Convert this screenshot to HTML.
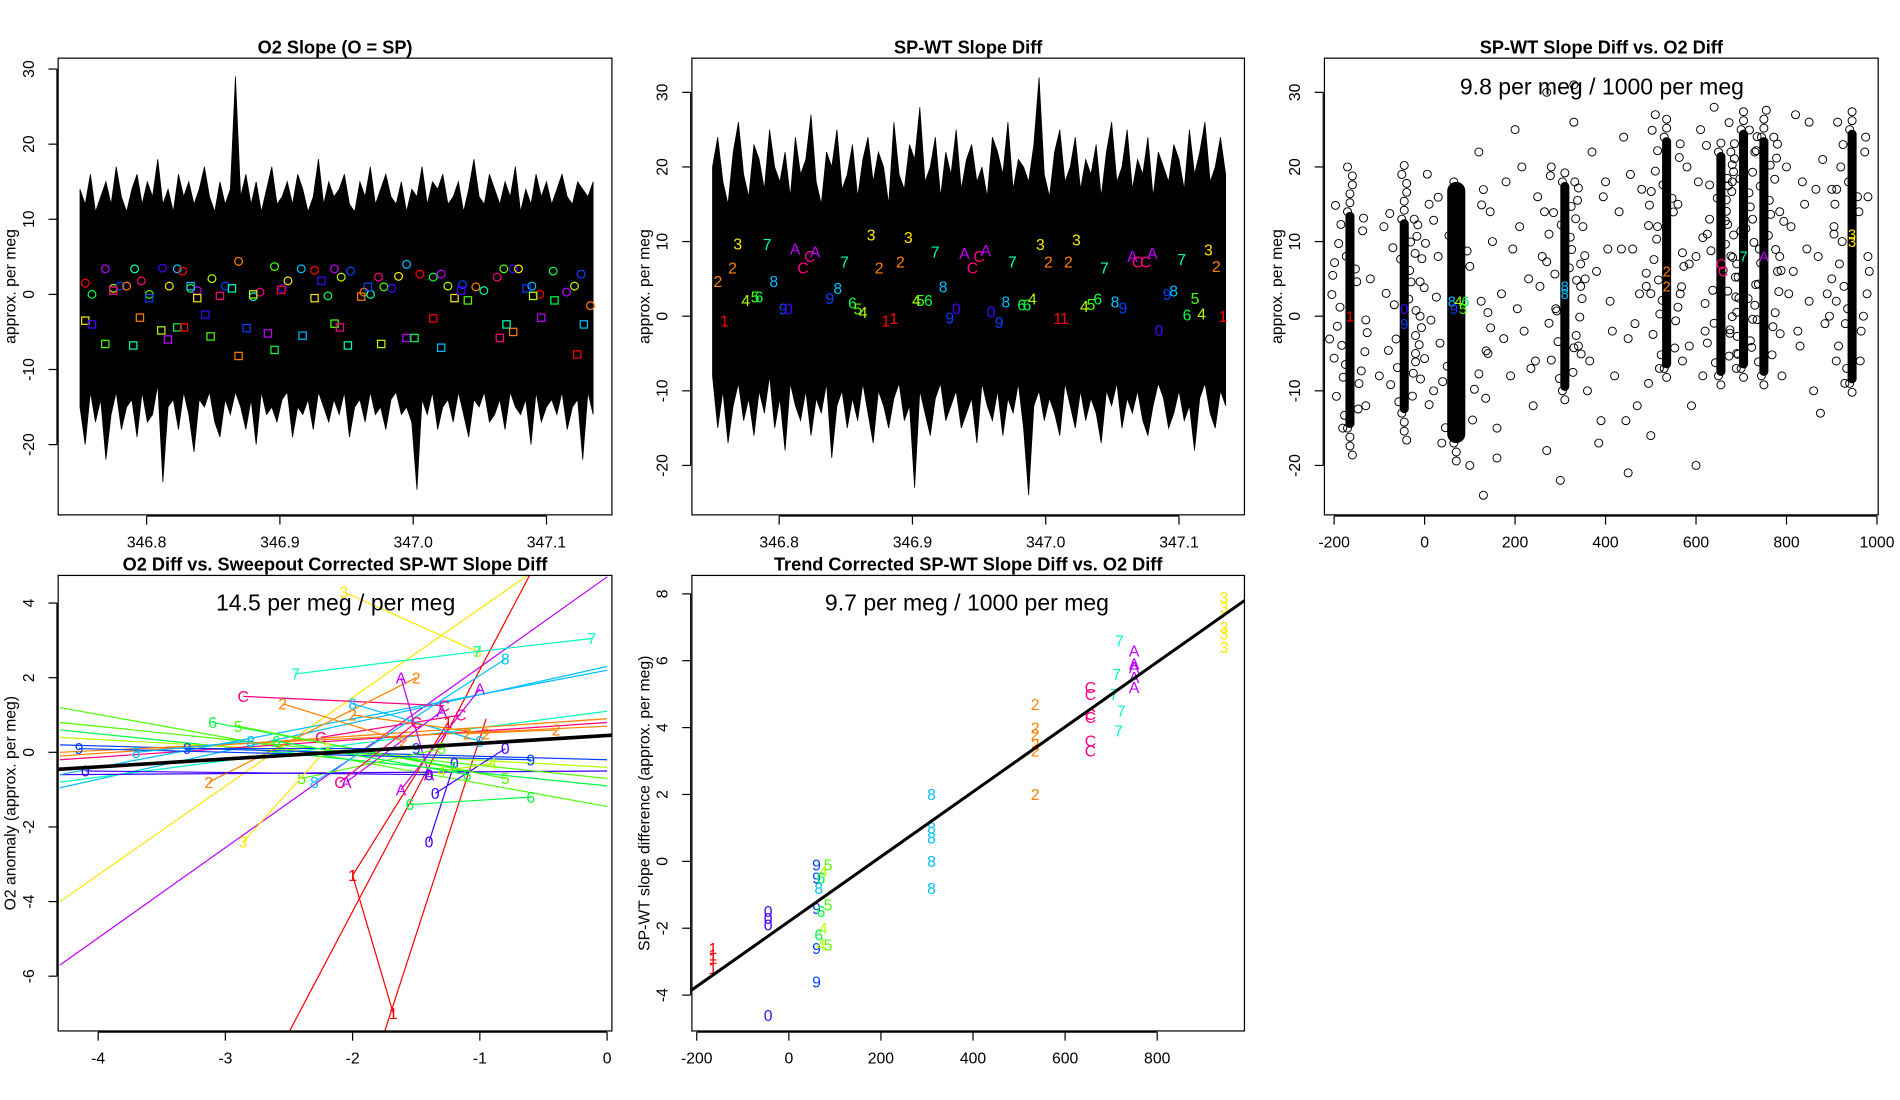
<!DOCTYPE html>
<html><head><meta charset="utf-8">
<style>
html,body{margin:0;padding:0;background:#fff;}
svg{display:block;font-family:"Liberation Sans",Arial,sans-serif;}
</style></head>
<body>
<svg id="chart" width="1900" height="1100" viewBox="0 0 1568 908" preserveAspectRatio="none" xmlns="http://www.w3.org/2000/svg"></svg>
<script>
// ---------- data ----------
const palette = {'1':'#FF0000','2':'#FF8000','3':'#FFE600','4':'#B3FF00','5':'#4DFF00','6':'#00FF40','7':'#00FFBF','8':'#00BFFF','9':'#0040FF','0':'#4000FF','A':'#BF00FF','C':'#FF0080'};
const labelCycle = ['1','2','3','4','5','6','7','8','9','0','A','C'];

const p1Hi = [14,12,16,11,13,15,12,17,13,11,14,16,12,15,13,18,12,14,11,16,13,15,12,14,17,13,11,15,12,14,29,13,16,12,15,11,14,17,12,13,15,12,16,14,11,13,18,12,15,13,14,16,12,11,15,13,17,12,14,16,13,12,15,11,14,13,17,12,15,14,16,12,13,15,11,14,18,13,12,16,14,12,15,13,17,11,14,12,16,13,15,12,14,16,13,12,15,14,13,15];
const p1Lo = [-15,-20,-13,-17,-14,-22,-16,-13,-18,-15,-14,-19,-13,-17,-16,-12,-25,-15,-14,-18,-13,-16,-21,-14,-15,-13,-17,-19,-14,-16,-13,-15,-18,-14,-20,-13,-16,-15,-17,-14,-13,-19,-15,-16,-14,-18,-13,-15,-17,-14,-16,-13,-19,-15,-14,-17,-13,-16,-15,-18,-14,-13,-16,-15,-17,-26,-14,-16,-13,-18,-15,-14,-17,-13,-16,-19,-14,-15,-13,-17,-16,-14,-18,-13,-15,-16,-14,-20,-13,-17,-15,-14,-16,-13,-18,-15,-14,-22,-13,-16];
const p2Hi = [20,24,18,15,22,26,19,16,23,21,17,25,20,18,22,16,24,19,21,27,18,15,22,20,25,17,19,23,16,21,24,18,22,20,15,26,19,17,23,21,28,18,20,24,16,22,19,25,17,21,23,18,20,16,24,22,19,26,17,21,20,18,23,32,19,16,22,25,18,20,24,17,21,19,23,16,22,26,18,20,25,17,21,19,24,16,22,20,18,23,21,17,25,19,22,26,18,20,24,19];
const p2Lo = [-8,-15,-10,-17,-12,-9,-14,-11,-16,-10,-13,-8,-15,-11,-18,-9,-12,-14,-10,-16,-11,-13,-9,-19,-12,-10,-15,-11,-14,-9,-13,-17,-10,-12,-15,-11,-9,-14,-12,-23,-10,-13,-16,-11,-9,-14,-12,-10,-15,-13,-11,-17,-9,-12,-14,-10,-16,-11,-13,-9,-15,-24,-12,-10,-14,-11,-13,-16,-9,-12,-15,-10,-14,-11,-13,-17,-10,-12,-9,-15,-11,-13,-10,-14,-16,-12,-9,-11,-15,-13,-10,-14,-12,-18,-11,-9,-13,-15,-10,-12];
const tStart = 346.750, tEnd = 347.135;

const circT = [346.754,346.759,346.769,346.775,346.780,346.785,346.791,346.796,346.802,346.812,346.817,346.823,346.827,346.833,346.838,346.849,346.859,346.869,346.880,346.885,346.896,346.902,346.906,346.916,346.926,346.936,346.941,346.946,346.953,346.963,346.968,346.974,346.978,346.984,346.989,346.995,347.005,347.015,347.021,347.026,347.037,347.047,347.053,347.063,347.068,347.075,347.079,347.089,347.095,347.105,347.115,347.121,347.126,347.133];
const circY = [1.5,0,3.4,0.8,1.1,1.1,3.4,1.8,0,3.5,1.1,3.4,3.1,0.8,0.5,2.1,1.1,4.4,-0.3,0.3,3.7,0.8,1.8,3.4,3.2,-0.2,3.4,2.3,3.1,0.3,0,2.3,1.0,0.8,2.4,4.0,2.7,2.3,2.7,1.1,1.3,1.0,0.5,2.3,3.4,3.4,3.4,1.1,0,3.1,0.3,1.1,2.7,-1.5];
const sqT = [346.754,346.759,346.769,346.775,346.790,346.795,346.802,346.811,346.816,346.823,346.828,346.833,346.838,346.844,346.848,346.855,346.864,346.869,346.875,346.880,346.891,346.896,346.901,346.917,346.926,346.931,346.941,346.945,346.951,346.961,346.966,346.976,346.995,347.001,347.015,347.021,347.031,347.036,347.041,347.065,347.070,347.075,347.085,347.090,347.096,347.106,347.123,347.128];
const sqY = [-3.5,-4.0,-6.6,0.5,-6.8,-3.1,-0.5,-4.8,-6.0,-4.4,-4.4,1.1,-0.5,-2.7,-5.6,-0.2,0.8,-8.2,-4.5,0,-5.2,-7.4,0.6,-5.5,-0.5,1.8,-3.9,-4.4,-6.8,-0.3,1.0,-6.6,-5.8,-5.8,-3.2,-7.1,-0.5,0.5,-0.8,-5.8,-4.0,-5.0,0.8,-0.2,-3.1,-0.8,-8.0,-4.0];

const p2LabT = [346.759,346.754,346.765,346.769,346.791,346.775,346.782,346.785,346.796,346.803,346.807,346.812,346.818,346.823,346.827,346.849,346.838,346.844,346.855,346.859,346.863,346.875,346.891,346.869,346.897,346.917,346.880,346.886,346.903,346.906,346.912,346.923,346.928,346.933,346.939,346.945,346.950,346.955,346.975,346.959,346.965,346.970,346.982,346.986,346.990,346.996,347.002,347.009,347.014,347.017,347.023,347.044,347.029,347.034,347.039,347.052,347.058,347.065,347.069,347.075,347.080,347.102,347.085,347.091,347.096,347.112,347.106,347.117,347.122,347.128,347.133];
const p2LabY = [-0.6,4.7,6.5,9.7,9.6,2.1,2.6,2.6,4.7,1.0,1.0,9.0,6.5,8.0,8.6,7.3,2.4,3.7,1.8,1.0,0.5,6.5,7.3,10.9,10.6,8.6,-0.6,-0.3,2.1,2.1,2.1,3.9,-0.2,1.0,8.4,6.5,8.0,8.8,7.3,0.6,-0.8,1.9,1.5,1.5,2.3,9.6,7.3,-0.3,-0.3,7.3,10.2,6.5,1.3,1.6,2.3,1.9,1.1,8.0,7.3,7.3,8.4,7.6,-1.9,2.9,3.4,2.4,0.2,0.3,8.9,6.7,0.0];
const p2LabC = ['1','2','2','3','7','4','5','6','8','9','0','A','C','C','A','7','9','8','6','5','4','2','2','3','3','7','1','1','4','5','6','8','9','0','A','C','C','A','7','0','9','8','6','6','4','3','2','1','1','2','3','7','4','5','6','8','9','A','C','C','A','7','0','9','8','5','6','4','3','2','1'];

const clusterX = [-165,-45,70,310,535,655,705,750,945];
const clusterLo = [-15,-13,-17,-10,-7,-8,-7,-8,-9];
const clusterHi = [14,13,18,18,24,22,25,24,25];
const clusterHalfW = [10,10,20,10,10,10,10,10,10];
const clusterTipLo = [-19,-17,-20,-12,-9,-10,-9,-10,-11];
const clusterTipHi = [20,21,19,20,27,24,28,28,28];
const haloDX = [-30,25,-18,35,-40,12,-25,30,-12,20,-35,38,-22,15,-8,28,-32,18,-15,33,-28,10,-38,24,-20,36,-10,26,-34,14,-45,44,-16,22];
const haloDY = [-12,-8,-4,0,4,8,12,16,-15,-10,-6,-2,2,6,10,14,18,-14,-9,-5,-1,3,7,11,15,-11,-7,1,9,13,-3,5,-17,17];
const bgX = [-120,-100,-90,-130,-20,10,20,30,120,140,150,160,170,180,190,200,210,220,230,240,250,260,270,280,290,330,340,350,360,370,380,390,400,410,420,430,440,450,460,470,480,490,500,510,560,570,580,590,600,610,620,630,680,690,730,780,790,800,810,820,830,840,850,860,870,880,890,900,910,980,850,100,300,450,600,270,330,640,130,385,445,160,725,875,
  125,145,175,195,215,235,255,275,345,365,395,415,435,455,475,495,515,565,585,605,625,785,805,825,845,865,885,905,135,205,245,265,355,405,465,585,615,815,835,895];
const bgY = [5,-8,12,-12,-5,15,-10,8,22,-5,10,-15,3,18,-8,25,12,-2,5,-12,16,8,-18,20,1,26,-4,12,-10,22,6,-14,18,2,-8,14,24,-3,9,-12,17,4,-16,27,15,-6,20,-12,8,25,-2,13,18,-5,22,6,-8,20,12,27,-4,15,26,-10,8,21,3,17,-6,16,2,-20,-22,-21,-20,30,31,28,-24,-17,-14,-19,13,-13,
  2,14,-3,9,20,-7,4,11,7,-6,16,-2,9,19,3,-9,12,3,-4,18,11,14,3,-2,9,17,-1,11,-11,1,-6,14,5,9,-1,7,-8,6,18,0];
const p3LabX = [-165,-45,-45,60,65,75,85,90,310,310,535,535,655,660,705,750,945,945];
const p3LabY = [0,1,-1,2,1,2,1,2,4,3,6,4,7,6,8,8,10,11];
const p3LabC = ['1','0','9','8','9','4','5','6','8','8','2','2','C','C','7','A','3','3'];

const longC = ['3','A','1','1','5','6','4','8','7','9','0','2','C','5','8','2'];
const longX0 = [-4.3,-4.3,-2.5,-1.75,-4.3,-4.3,-4.3,-4.3,-4.3,-4.3,-4.3,-4.3,-4.3,-4.3,-4.3,-4.3];
const longY0 = [-4.0,-5.7,-7.5,-7.5,1.2,0.6,0.4,-0.95,-0.8,0.2,-0.6,-0.1,-0.2,0.8,-0.6,0.0];
const longX1 = [-0.6,0,-0.6,-0.95,0,0,0,0,0,0,0,0,0,0,0,0];
const longY1 = [4.8,4.7,4.8,0.9,-1.45,-0.9,-0.4,2.3,1.1,-0.2,-0.5,0.9,0.8,-0.7,2.2,0.7];
const segC = ['3','7','7','C','C','2','1','1','A','A','0','0','6','6','8','8','5','5','9','9','2','2','4','8','0','C','3','A','6','2'];
const segX0 = [-2.07,-2.45,-1.02,-2.86,-2.25,-3.13,-2.0,-2.0,-1.62,-1.62,-1.4,-1.35,-1.55,-3.1,-2.3,-2.0,-2.4,-2.9,-4.15,-3.3,-2.0,-1.1,-0.9,-3.7,-4.1,-2.1,-2.86,-2.05,-2.6,-2.55];
const segY0 = [4.3,2.1,2.7,1.5,0.4,-0.8,-3.3,-3.3,-1.0,2.0,-2.4,-1.1,-1.4,0.8,-0.8,1.3,-0.7,0.7,0.1,0.1,1.0,0.5,-0.3,0.0,-0.5,-0.8,-2.4,-0.8,0.3,1.3];
const segX1 = [-1.02,-1.02,-0.12,-1.28,-1.15,-1.5,-1.68,-1.25,-1.0,-1.4,-1.2,-0.8,-0.6,-1.2,-0.8,-1.0,-1.3,-0.8,-0.6,-1.5,-0.95,-0.4,-1.3,-2.8,-1.4,-1.5,-2.2,-1.3,-1.1,-1.6];
const segY1 = [2.7,2.7,3.05,1.25,1.0,2.0,-7.0,0.8,1.7,-0.6,-0.3,0.1,-1.2,-0.4,2.5,0.3,0.1,-0.7,-0.2,0.1,0.5,0.6,-0.5,0.3,-0.6,0.8,0.1,1.1,-0.6,0.3];
const reg4 = [0.21, 0.45]; // slope, intercept

const p5X = [-165,-165,-165,-165,-45,-45,-45,-45,60,60,60,60,60,85,75,85,70,75,70,85,65,65,70,310,310,310,310,310,535,535,535,535,535,535,655,655,655,655,655,655,718,712,706,722,716,750,750,750,750,750,945,945,945,945,945];
const p5Y = [-2.6,-2.9,-3.2,-2.8,-1.5,-1.7,-1.9,-4.6,-0.5,-1.4,-2.6,-3.6,-0.1,-0.1,-0.3,-1.3,-1.5,-2.0,-2.5,-2.5,-2.2,-0.8,-0.5,2.0,1.0,0.7,0.0,-0.8,4.7,4.0,3.8,3.5,3.3,2.0,5.2,5.0,4.4,4.3,3.6,3.3,6.6,5.6,5.0,4.5,3.9,6.3,5.9,5.8,5.5,5.2,7.9,7.6,7.0,6.8,6.4];
const p5C = ['1','1','1','1','0','0','0','0','9','9','9','9','9','5','4','5','6','4','4','5','6','8','6','8','8','8','8','8','2','2','2','2','2','2','C','C','C','C','C','C','7','7','7','7','7','A','A','A','A','A','3','3','3','3','3'];
const reg5 = [0.0097, -1.8];

// ---------- helpers ----------
const NS = 'http://www.w3.org/2000/svg';
const svg = document.getElementById('chart');
function mk(tag, attrs, parent){
  const e = document.createElementNS(NS, tag);
  for (const k in attrs) e.setAttribute(k, attrs[k]);
  (parent||svg).appendChild(e);
  return e;
}
function lin(d0,p0,d1,p1){ return v => p0 + (v-d0)*(p1-p0)/(d1-d0); }

function panel(id, box, sx, sy, xt, xl, yt, yl, title, ytitle){
  const g = mk('g', {});
  
  
  const cp = mk('clipPath', {id:'clip-'+id}, g);
  mk('rect', {x:box[0], y:box[1], width:box[2]-box[0], height:box[3]-box[1]}, cp);
  const plot = mk('g', {'clip-path':'url(#clip-'+id+')'}, g);
  
  
  const frame = mk('rect', {x:box[0], y:box[1], width:box[2]-box[0], height:box[3]-box[1], fill:'none', stroke:'#000', 'stroke-width':1});
  
  
  const xa = mk('g', {}, g);
  
  
  mk('line', {x1:sx(xt[0]), x2:sx(xt[xt.length-1]), y1:box[3]+1, y2:box[3]+1, stroke:'#000'}, xa);
  xt.forEach((v,i)=>{
    const x = sx(v);
    mk('line', {x1:x, x2:x, y1:box[3]+1, y2:box[3]+8, stroke:'#000'}, xa);
    const t = mk('text', {x:x, y:box[3]+27, 'font-size':13, 'text-anchor':'middle'}, xa);
    
    
    t.textContent = xl[i];
  });
  const ya = mk('g', {}, g);
  
  
  mk('line', {x1:box[0]-1, x2:box[0]-1, y1:sy(yt[0]), y2:sy(yt[yt.length-1]), stroke:'#000'}, ya);
  yt.forEach((v,i)=>{
    const y = sy(v);
    mk('line', {x1:box[0]-1, x2:box[0]-8, y1:y, y2:y, stroke:'#000'}, ya);
    const tx = box[0]-20;
    const t = mk('text', {x:tx, y:y, 'font-size':13, 'text-anchor':'middle', transform:`rotate(-90 ${tx} ${y})`}, ya);
    
    
    t.textContent = yl[i];
  });
  const tt = mk('text', {x:(box[0]+box[2])/2, y:box[1]-4, 'font-size':15, 'font-weight':'bold', 'text-anchor':'middle'}, g);
  
  
  tt.textContent = title;
  const yx = box[0]-35, yy = (box[1]+box[3])/2;
  const yt2 = mk('text', {x:yx, y:yy, 'font-size':13, 'text-anchor':'middle', transform:`rotate(-90 ${yx} ${yy})`}, g);
  
  
  yt2.textContent = ytitle;
  return plot;
}
function band(plot, sx, sy, hi, lo, name){
  const n = hi.length, step = (tEnd-tStart)/(n-1);
  let d = '';
  hi.forEach((v,i)=>{ d += (i?'L':'M') + sx(tStart+i*step).toFixed(1) + ' ' + sy(v).toFixed(1); });
  for (let i=n-1;i>=0;i--) d += 'L' + sx(tStart+i*step).toFixed(1) + ' ' + sy(lo[i]).toFixed(1);
  d += 'Z';
  const p = mk('path', {d:d, fill:'#000', stroke:'#000', 'stroke-width':0.6}, plot);
  
  
}
function lab(parent, x, y, c, size){
  const t = mk('text', {x:x, y:y+ (size||13)*0.36, 'font-size':size||13, 'text-anchor':'middle', fill:palette[c]}, parent);
  
  
  t.textContent = c;
  return t;
}
function ring(parent, x, y, name){
  const c = mk('circle',{cx:x, cy:y, r:3.3, fill:'none', stroke:'#000', 'stroke-width':0.8}, parent);
  
  
}
const tTicks = [346.8,346.9,347.0,347.1], tLabs = ['346.8','346.9','347.0','347.1'];

// ---------- panel 1 ----------
{
  const sx = lin(346.8,121,347.1,451), sy = lin(0,243,10,181);
  const yt = [-20,-10,0,10,20,30];
  const pl = panel('o2-slope-panel',[48,48,505,425],sx,sy,tTicks,tLabs,yt,yt.map(String),'O2 Slope (O = SP)','approx. per meg');
  band(pl, sx, sy, p1Hi, p1Lo, 'o2-slope-series');
  circT.forEach((t,i)=>{
    const c = mk('circle',{cx:sx(t), cy:sy(circY[i]), r:3.2, fill:'none', stroke:palette[labelCycle[(i*5)%12]], 'stroke-width':1}, pl);
    
    
  });
  sqT.forEach((t,i)=>{
    const r = mk('rect',{x:sx(t)-3, y:sy(sqY[i])-3, width:6, height:6, fill:'none', stroke:palette[labelCycle[(i*7+2)%12]], 'stroke-width':1}, pl);
    
    
  });
}
// ---------- panel 2 ----------
{
  const sx = lin(346.8,643,347.1,973), sy = lin(0,261,10,199.4);
  const yt = [-20,-10,0,10,20,30];
  const pl = panel('sp-wt-slope-panel',[571,48,1027,425],sx,sy,tTicks,tLabs,yt,yt.map(String),'SP-WT Slope Diff','approx. per meg');
  band(pl, sx, sy, p2Hi, p2Lo, 'sp-wt-slope-series');
  p2LabT.forEach((t,i)=> lab(pl, sx(t), sy(p2LabY[i]), p2LabC[i], 13));
}
// ---------- panel 3 ----------
{
  const sx = lin(-200,1101,1000,1549), sy = lin(0,261,10,199.4);
  const xt = [-200,0,200,400,600,800,1000], yt = [-20,-10,0,10,20,30];
  const pl = panel('slope-vs-o2-panel',[1093,48,1550,425],sx,sy,xt,xt.map(String),yt,yt.map(String),'SP-WT Slope Diff vs. O2 Diff','approx. per meg');
  bgX.forEach((x,i)=> ring(pl, sx(x), sy(bgY[i]), 'scatter-point'));
  clusterX.forEach((x,i)=>{
    const mid = (clusterLo[i]+clusterHi[i])/2;
    haloDX.forEach((dx,j)=>{
      if (j % 2 === i % 2 || j < 20) ring(pl, sx(x+dx*(clusterHalfW[i]/10)), sy(mid+haloDY[j]*(clusterHi[i]-clusterLo[i])/34), 'halo-point');
    });
    const w = sx(x+clusterHalfW[i]) - sx(x-clusterHalfW[i]);
    const r = mk('rect',{x:sx(x)-w/2, y:sy(clusterHi[i]), width:w, height:sy(clusterLo[i])-sy(clusterHi[i]), rx:w/2, fill:'#000'}, pl);
    
    
    for (let y = clusterHi[i]; y <= clusterTipHi[i]; y += 1.2) ring(pl, sx(x) + ((Math.round(y*3))%3-1)*2, sy(y), 'cluster-tail-point');
    for (let y = clusterLo[i]; y >= clusterTipLo[i]; y -= 1.2) ring(pl, sx(x) + ((Math.round(-y*3))%3-1)*2, sy(y), 'cluster-tail-point');
  });
  p3LabX.forEach((x,i)=> lab(pl, sx(x), sy(p3LabY[i]), p3LabC[i], 12));
  const a = mk('text',{x:1322, y:78, 'font-size':19, 'text-anchor':'middle'});
  
  
  a.textContent = '9.8 per meg / 1000 per meg';
}
// ---------- panel 4 ----------
{
  const sx = lin(-4,81,0,501), sy = lin(0,621,2,559.4);
  const xt = [-4,-3,-2,-1,0], yt = [-6,-4,-2,0,2,4];
  const pl = panel('o2-diff-vs-sweepout-panel',[48,475,505,851],sx,sy,xt,xt.map(String),yt,yt.map(String),'O2 Diff vs. Sweepout Corrected SP-WT Slope Diff','O2 anomaly (approx. per meg)');
  longC.forEach((c,i)=>{
    const l = mk('line',{x1:sx(longX0[i]), y1:sy(longY0[i]), x2:sx(longX1[i]), y2:sy(longY1[i]), stroke:palette[c], 'stroke-width':1}, pl);
    
    
  });
  segC.forEach((c,i)=>{
    const l = mk('line',{x1:sx(segX0[i]), y1:sy(segY0[i]), x2:sx(segX1[i]), y2:sy(segY1[i]), stroke:palette[c], 'stroke-width':1}, pl);
    
    
    lab(pl, sx(segX0[i]), sy(segY0[i]), c, 13);
    lab(pl, sx(segX1[i]), sy(segY1[i]), c, 13);
  });
  const r = mk('line',{x1:sx(-4.4), y1:sy(reg4[0]*-4.4+reg4[1]), x2:sx(0.1), y2:sy(reg4[0]*0.1+reg4[1]), stroke:'#000', 'stroke-width':3}, pl);
  
  
  const a = mk('text',{x:277, y:504, 'font-size':19, 'text-anchor':'middle'});
  
  
  a.textContent = '14.5 per meg / per meg';
}
// ---------- panel 5 ----------
{
  const sx = lin(-200,575,800,955), sy = lin(0,711,2,655.8);
  const xt = [-200,0,200,400,600,800], yt = [-4,-2,0,2,4,6,8];
  const pl = panel('trend-corrected-panel',[571,475,1027,851],sx,sy,xt,xt.map(String),yt,yt.map(String),'Trend Corrected SP-WT Slope Diff vs. O2 Diff','SP-WT slope difference (approx. per meg)');
  p5X.forEach((x,i)=> lab(pl, sx(x), sy(p5Y[i]), p5C[i], 13));
  const r = mk('line',{x1:sx(-220), y1:sy(reg5[0]*-220+reg5[1]), x2:sx(1000), y2:sy(reg5[0]*1000+reg5[1]), stroke:'#000', 'stroke-width':2.5}, pl);
  
  
  const a = mk('text',{x:798, y:504, 'font-size':19, 'text-anchor':'middle'});
  
  
  a.textContent = '9.7 per meg / 1000 per meg';
}
</script>
</body></html>
